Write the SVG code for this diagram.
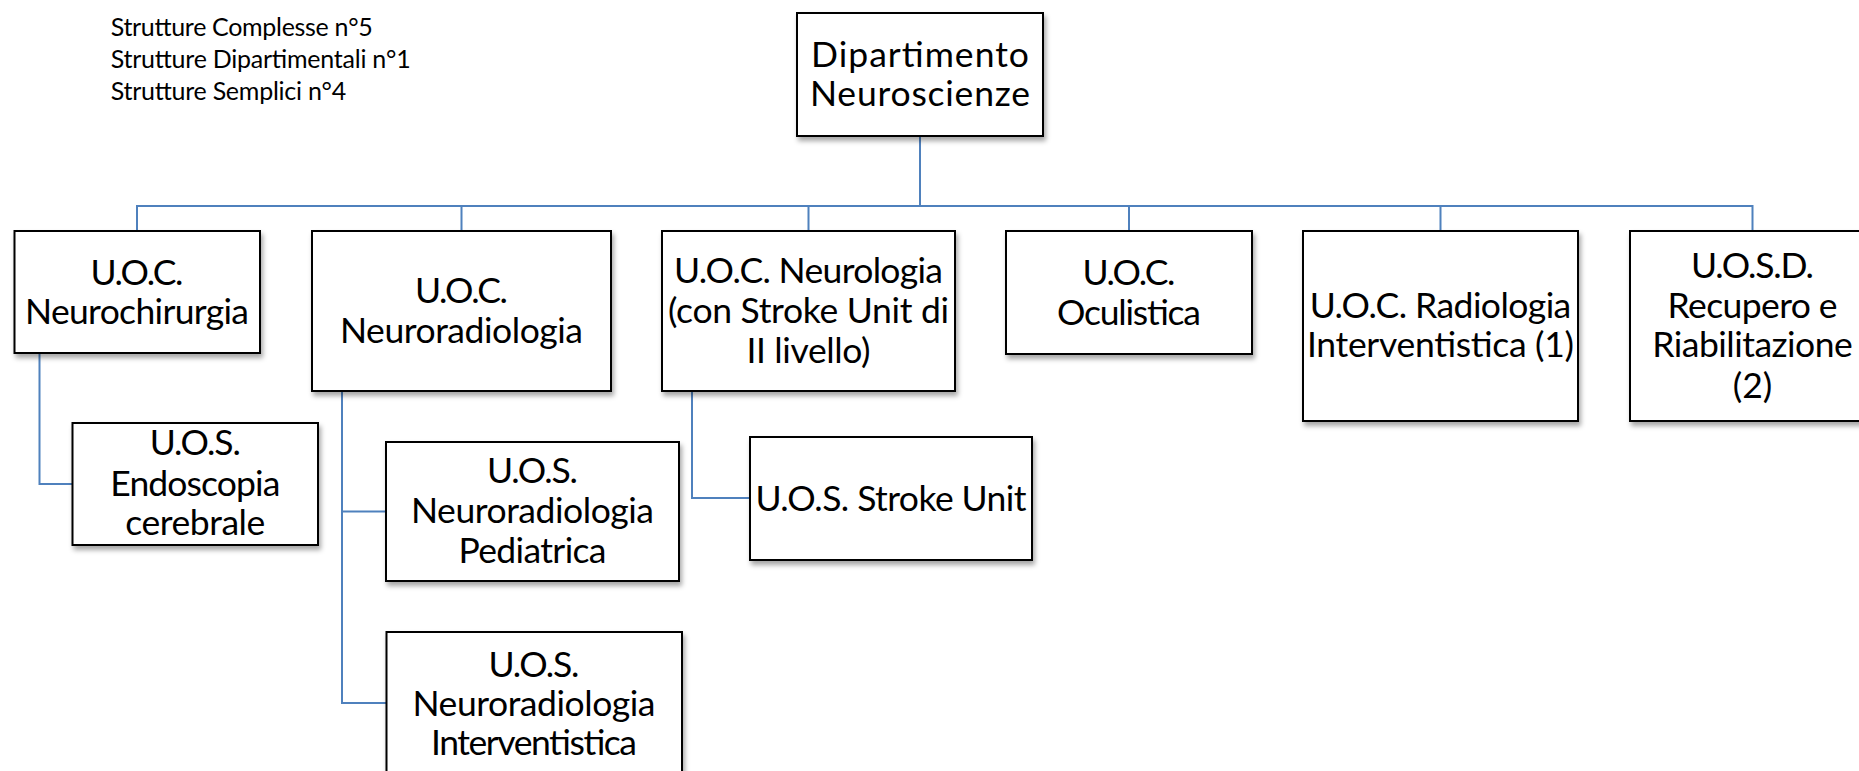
<svg xmlns="http://www.w3.org/2000/svg" width="1859" height="771" viewBox="0 0 1859 771">
<defs>
<filter id="sh" x="-10%" y="-10%" width="130%" height="130%">
<feDropShadow dx="2" dy="4" stdDeviation="2.5" flood-color="#000" flood-opacity="0.35"/>
</filter>
<style>
.box{fill:#fff;stroke:#000;stroke-width:2;filter:url(#sh)}
.t{font-family:Lato,"Open Sans","Liberation Sans",sans-serif;font-size:35.5px;fill:#000;text-anchor:middle}
.s{font-family:Lato,"Open Sans","Liberation Sans",sans-serif;font-size:25px;fill:#000}
.c{fill:none;stroke:#4F81BD;stroke-width:2}
</style>
</defs>
<rect width="1859" height="771" fill="#fff"/>
<g id="legend">
<text class="s" x="110.7" y="36" textLength="262">Strutture Complesse n°5</text>
<text class="s" x="110.7" y="68" textLength="300">Strutture Dipartimentali n°1</text>
<text class="s" x="110.7" y="100" textLength="235.5">Strutture Semplici n°4</text>
</g>
<g id="connectors">
<path class="c" d="M920,136 V206 H137 V231"/>
<path class="c" d="M920,136 V206 H461.5 V231"/>
<path class="c" d="M920,136 V206 H808.5 V231"/>
<path class="c" d="M920,136 V206 H1129 V231"/>
<path class="c" d="M920,136 V206 H1440.5 V231"/>
<path class="c" d="M920,136 V206 H1752.5 V231"/>
<path class="c" d="M39.5,353 V484 H72.5"/>
<path class="c" d="M342,391 V511.5 H386"/>
<path class="c" d="M342,391 V703 H386.5"/>
<path class="c" d="M692,391 V498 H750"/>
</g>
<g id="dipartimento">
<rect class="box" x="797" y="13" width="246" height="123"/>
<text class="t" x="920" y="67" textLength="218">Dipartimento</text>
<text class="t" x="920" y="106" textLength="220">Neuroscienze</text>
</g>
<g id="neurochirurgia">
<rect class="box" x="14.5" y="231" width="245.5" height="122"/>
<text class="t" x="137" y="285" textLength="93">U.O.C.</text>
<text class="t" x="137" y="324" textLength="224">Neurochirurgia</text>
</g>
<g id="neuroradiologia">
<rect class="box" x="312" y="231" width="299" height="160"/>
<text class="t" x="461.5" y="303" textLength="93">U.O.C.</text>
<text class="t" x="461.5" y="343" textLength="243">Neuroradiologia</text>
</g>
<g id="neurologia">
<rect class="box" x="662" y="231" width="293" height="160"/>
<text class="t" x="808.5" y="283" textLength="269">U.O.C. Neurologia</text>
<text class="t" x="808.5" y="323" textLength="281">(con Stroke Unit di</text>
<text class="t" x="808.5" y="363" textLength="124">II livello)</text>
</g>
<g id="oculistica">
<rect class="box" x="1006" y="231" width="246" height="123"/>
<text class="t" x="1129" y="285" textLength="93">U.O.C.</text>
<text class="t" x="1129" y="325" textLength="144">Oculistica</text>
</g>
<g id="radiologia">
<rect class="box" x="1303" y="231" width="275" height="190"/>
<text class="t" x="1440.5" y="318" textLength="261.5">U.O.C. Radiologia</text>
<text class="t" x="1440.5" y="357" textLength="267">Interventistica (1)</text>
</g>
<g id="riabilitazione">
<rect class="box" x="1630" y="231" width="245" height="190"/>
<text class="t" x="1752.5" y="278" textLength="123">U.O.S.D.</text>
<text class="t" x="1752.5" y="318" textLength="170">Recupero e</text>
<text class="t" x="1752.5" y="357" textLength="200.5">Riabilitazione</text>
<text class="t" x="1752.5" y="398">(2)</text>
</g>
<g id="endoscopia">
<rect class="box" x="72.5" y="423" width="245.5" height="122"/>
<text class="t" x="195.3" y="455" textLength="91">U.O.S.</text>
<text class="t" x="195.3" y="496" textLength="170">Endoscopia</text>
<text class="t" x="195.3" y="535" textLength="140">cerebrale</text>
</g>
<g id="stroke-unit">
<rect class="box" x="750" y="437" width="282" height="123"/>
<text class="t" x="891" y="511" textLength="271">U.O.S. Stroke Unit</text>
</g>
<g id="neuroradiologia-pediatrica">
<rect class="box" x="386" y="442" width="293" height="139"/>
<text class="t" x="532.5" y="483" textLength="91">U.O.S.</text>
<text class="t" x="532.5" y="523" textLength="243">Neuroradiologia</text>
<text class="t" x="532.5" y="563" textLength="148">Pediatrica</text>
</g>
<g id="neuroradiologia-interventistica">
<rect class="box" x="386.5" y="632" width="295.5" height="143"/>
<text class="t" x="534" y="677" textLength="91">U.O.S.</text>
<text class="t" x="534" y="716" textLength="243">Neuroradiologia</text>
<text class="t" x="534" y="755" textLength="206">Interventistica</text>
</g>
</svg>
